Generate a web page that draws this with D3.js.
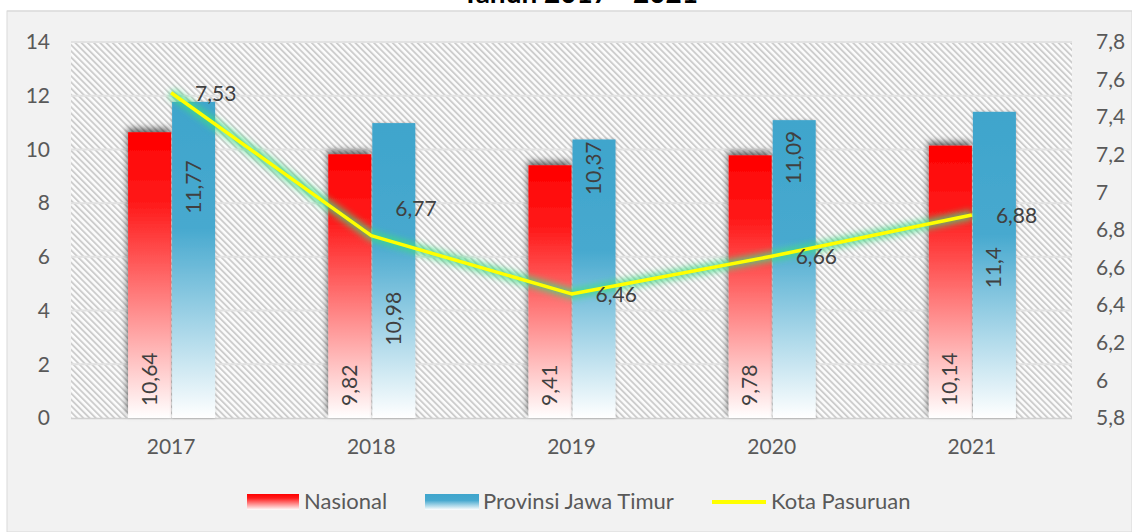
<!DOCTYPE html>
<html>
<head>
<meta charset="utf-8">
<script src="https://cdn.jsdelivr.net/npm/d3@7"></script>
<style>
  body { margin: 0; background: #fff; }
  svg { display: block; font-family: Lato, "Noto Sans", sans-serif; }
</style>
</head>
<body>
<svg width="1132" height="532"></svg>
<script>
// data
const years = ["2017", "2018", "2019", "2020", "2021"];
const nasional = [10.64, 9.82, 9.41, 9.78, 10.14];
const jatim = [11.77, 10.98, 10.37, 11.09, 11.4];
const pasuruan = [7.53, 6.77, 6.46, 6.66, 6.88];
const leftTicks = [0, 2, 4, 6, 8, 10, 12, 14];
const rightTicks = [5.8, 6, 6.2, 6.4, 6.6, 6.8, 7, 7.2, 7.4, 7.6, 7.8];

// where the rotated blue labels sit (left-axis units, centre of text)
const jatimLabelAt = [8.6, 3.7, 9.3, 9.7, 5.6];
const pasLabelDy = [0, -28, 0, 0, 0];

const fmt = v => String(v).replace(".", ",");

const svg = d3.select("svg");
const W = 1132, H = 532;
const m = { left: 71, right: 1072, top: 42, bottom: 418 };
const FS = 21;

const defs = svg.append("defs");

// hatch
const pat = defs.append("pattern")
    .attr("id", "hatch")
    .attr("patternUnits", "userSpaceOnUse")
    .attr("width", 4.4).attr("height", 10)
    .attr("patternTransform", "rotate(-45)");
pat.append("rect").attr("width", 4.4).attr("height", 10).attr("fill", "#fcfcfc");
pat.append("rect").attr("width", 1.9).attr("height", 10).attr("fill", "#cdcdcd");

const gRed = defs.append("linearGradient").attr("id", "gRed")
    .attr("x1", 0).attr("y1", 0).attr("x2", 0).attr("y2", 1);
gRed.append("stop").attr("offset", "0%").attr("stop-color", "#ff0000");
gRed.append("stop").attr("offset", "25%").attr("stop-color", "#ff1a1a");
gRed.append("stop").attr("offset", "100%").attr("stop-color", "#ffffff");

const gBlue = defs.append("linearGradient").attr("id", "gBlue")
    .attr("x1", 0).attr("y1", 0).attr("x2", 0).attr("y2", 1);
gBlue.append("stop").attr("offset", "0%").attr("stop-color", "#3fa5cc");
gBlue.append("stop").attr("offset", "40%").attr("stop-color", "#47a9cf");
gBlue.append("stop").attr("offset", "100%").attr("stop-color", "#ffffff");

const shadow = defs.append("filter").attr("id", "shadow")
    .attr("x", "-30%").attr("y", "-10%").attr("width", "160%").attr("height", "120%");
shadow.append("feDropShadow").attr("dx", -1).attr("dy", -4)
    .attr("stdDeviation", 3).attr("flood-color", "#000").attr("flood-opacity", 0.55);

const shadowB = defs.append("filter").attr("id", "shadowB")
    .attr("x", "-30%").attr("y", "-10%").attr("width", "160%").attr("height", "120%");
shadowB.append("feDropShadow").attr("dx", 0).attr("dy", 0)
    .attr("stdDeviation", 1.5).attr("flood-color", "#000").attr("flood-opacity", 0.25);

const glow = defs.append("filter").attr("id", "glow")
    .attr("x", "-10%").attr("y", "-20%").attr("width", "120%").attr("height", "140%");
glow.append("feGaussianBlur").attr("stdDeviation", 3);

// background panel
svg.append("rect").attr("width", W).attr("height", H).attr("fill", "#fff");
svg.append("rect").attr("x", 7).attr("y", 11).attr("width", W - 7).attr("height", H - 11)
    .attr("fill", "#f2f2f2").attr("stroke", "#d9d9d9");

// title, cut off by the top edge as in the source image
svg.append("text")
    .attr("x", 580).attr("y", 3)
    .attr("text-anchor", "middle")
    .attr("font-size", 28).attr("font-weight", "bold").attr("fill", "#000")
    .text("Tahun 2017 - 2021");
svg.append("line").attr("x1", 7).attr("x2", W).attr("y1", 11).attr("y2", 11)
    .attr("stroke", "#d9d9d9");

// scales
const x = d3.scaleBand().domain(years).range([m.left, m.right]);
const y = d3.scaleLinear().domain([0, 14]).range([m.bottom, m.top]);
const y2 = d3.scaleLinear().domain([5.8, 7.8]).range([m.bottom, m.top]);
const barW = 43;

svg.append("rect")
    .attr("x", m.left).attr("y", m.top)
    .attr("width", m.right - m.left).attr("height", m.bottom - m.top)
    .attr("fill", "url(#hatch)");

// gridlines
svg.append("g").selectAll("line")
    .data(leftTicks.slice(1))
    .join("line")
    .attr("x1", m.left).attr("x2", m.right)
    .attr("y1", d => y(d)).attr("y2", d => y(d))
    .attr("stroke", "#e2e2e2").attr("stroke-width", 2);

// axes
const axL = svg.append("g")
    .attr("transform", `translate(${m.left},0)`)
    .call(d3.axisLeft(y).tickValues(leftTicks).tickSize(0).tickPadding(21));
const axR = svg.append("g")
    .attr("transform", `translate(${m.right},0)`)
    .call(d3.axisRight(y2).tickValues(rightTicks).tickSize(0).tickPadding(24)
        .tickFormat(d => fmt(+d.toFixed(1))));
const axB = svg.append("g")
    .attr("transform", `translate(0,${m.bottom})`)
    .call(d3.axisBottom(x).tickSize(0).tickPadding(21));
[axL, axR, axB].forEach(a => {
    a.select(".domain").remove();
    a.selectAll("text").attr("font-family", "Lato, 'Noto Sans', sans-serif")
        .attr("font-size", FS).attr("fill", "#595959");
});
svg.append("line").attr("x1", m.left).attr("x2", m.right)
    .attr("y1", m.bottom + 0.5).attr("y2", m.bottom + 0.5)
    .attr("stroke", "#d0d0d0").attr("stroke-width", 1.5);

// bars
const cx = d => x(d) + x.bandwidth() / 2;
svg.append("g").selectAll("rect")
    .data(years)
    .join("rect")
    .attr("x", (d) => cx(d) - barW)
    .attr("y", (d, i) => y(nasional[i]))
    .attr("width", barW)
    .attr("height", (d, i) => y(0) - y(nasional[i]))
    .attr("fill", "url(#gRed)")
    .attr("filter", "url(#shadow)");
svg.append("g").selectAll("rect")
    .data(years)
    .join("rect")
    .attr("x", d => cx(d) + 1)
    .attr("y", (d, i) => y(jatim[i]))
    .attr("width", barW)
    .attr("height", (d, i) => y(0) - y(jatim[i]))
    .attr("fill", "url(#gBlue)")
    .attr("filter", "url(#shadowB)");

// bar labels (rotated)
svg.append("g").selectAll("text")
    .data(years)
    .join("text")
    .attr("transform", d => `translate(${cx(d) - barW / 2 + 7},${y(0) - 12}) rotate(-90)`)
    .attr("font-size", FS).attr("fill", "#404040")
    .text((d, i) => fmt(nasional[i]));
svg.append("g").selectAll("text")
    .data(years)
    .join("text")
    .attr("transform", (d, i) => `translate(${cx(d) + 1 + barW / 2 + 7},${y(jatimLabelAt[i])}) rotate(-90)`)
    .attr("text-anchor", "middle")
    .attr("font-size", FS).attr("fill", "#404040")
    .text((d, i) => fmt(jatim[i]));

// line with glow
const line = d3.line()
    .x((d, i) => cx(years[i]))
    .y(d => y2(d));
svg.append("path")
    .datum(pasuruan)
    .attr("d", line)
    .attr("fill", "none")
    .attr("stroke", "#3ddc84")
    .attr("stroke-opacity", 0.75)
    .attr("stroke-width", 10)
    .attr("stroke-linejoin", "round")
    .attr("filter", "url(#glow)");
svg.append("path")
    .datum(pasuruan)
    .attr("d", line)
    .attr("fill", "none")
    .attr("stroke", "#ffff00")
    .attr("stroke-width", 3.5)
    .attr("stroke-linejoin", "round");

svg.append("g").selectAll("text")
    .data(pasuruan)
    .join("text")
    .attr("x", (d, i) => cx(years[i]) + 24)
    .attr("y", (d, i) => y2(d) + pasLabelDy[i] + 8)
    .attr("font-size", FS).attr("fill", "#404040")
    .text(d => fmt(d));

// legend
const lg = svg.append("g").attr("font-size", 22).attr("fill", "#595959");
lg.append("rect").attr("x", 247).attr("y", 494).attr("width", 52).attr("height", 16)
    .attr("fill", "url(#gRed)");
lg.append("text").attr("x", 304).attr("y", 509).text("Nasional");
lg.append("rect").attr("x", 425).attr("y", 494).attr("width", 54).attr("height", 16)
    .attr("fill", "url(#gBlue)");
lg.append("text").attr("x", 483).attr("y", 509).text("Provinsi Jawa Timur");
lg.append("line").attr("x1", 712).attr("x2", 766).attr("y1", 502).attr("y2", 502)
    .attr("stroke", "#ffff00").attr("stroke-width", 4);
lg.append("text").attr("x", 771).attr("y", 509).text("Kota Pasuruan");
</script>
</body>
</html>
